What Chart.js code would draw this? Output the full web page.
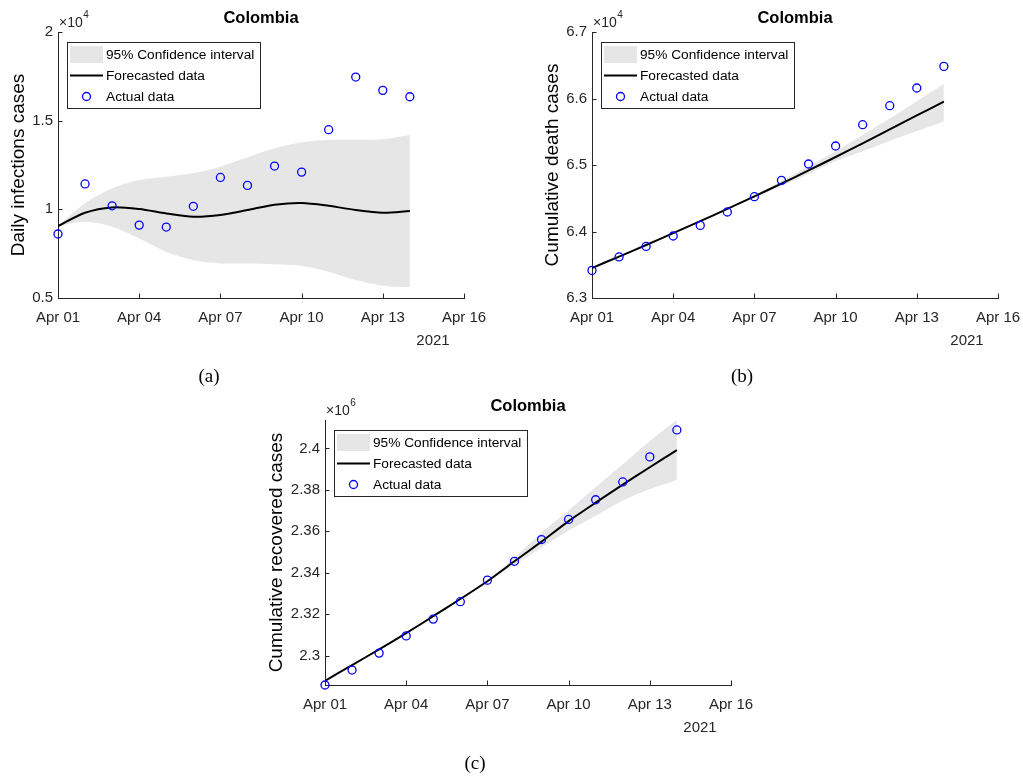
<!DOCTYPE html>
<html>
<head>
<meta charset="utf-8">
<title>Colombia forecasts</title>
<script src="https://cdn.jsdelivr.net/npm/chart.js@4.4.0/dist/chart.umd.min.js"></script>
<style>
  body { margin: 0; background: #fff; }
  #page { position: relative; width: 1023px; height: 778px; overflow: hidden; background: #fff; }
  .panel { position: absolute; }
  .caption {
    position: absolute;
    font-family: 'Liberation Serif', 'DejaVu Serif', serif;
    font-size: 19px;
    color: #000;
    transform: translate(-50%, -50%);
  }
</style>
</head>
<body>
<div id="page">
  <div class="panel" style="left:0;top:0"><canvas id="chartA" width="490" height="390"></canvas></div>
  <div class="panel" style="left:530px;top:0"><canvas id="chartB" width="493" height="390"></canvas></div>
  <div class="panel" style="left:260px;top:390px"><canvas id="chartC" width="500" height="388"></canvas></div>
  <div class="caption" style="left:209px;top:376px">(a)</div>
  <div class="caption" style="left:742px;top:376px">(b)</div>
  <div class="caption" style="left:475px;top:763px">(c)</div>
</div>
<script>
// days since Apr 01 2021
const dayIndex = [0, 1, 2, 3, 4, 5, 6, 7, 8, 9, 10, 11, 12, 13];
const dateTicks = [0, 3, 6, 9, 12, 15];
const dateLabels = ['Apr 01', 'Apr 04', 'Apr 07', 'Apr 10', 'Apr 13', 'Apr 16'];
const yearLabel = '2021';
const countryName = 'Colombia';
const legendLabels = ['95% Confidence interval', 'Forecasted data', 'Actual data'];

// (a) daily infections
const infectionActual = [8610, 11430, 10200, 9110, 9000, 10170, 11800, 11350, 12440, 12100, 14490, 17460, 16710, 16350];
const infectionForecast = [9060, 9810, 10110, 10020, 9770, 9580, 9680, 9960, 10260, 10360, 10200, 9960, 9810, 9900];
const infectionUpper = [9060, 10340, 11180, 11650, 11840, 12030, 12400, 12930, 13440, 13780, 13910, 13920, 13950, 14190];
const infectionLower = [9060, 9300, 9020, 8360, 7610, 7140, 6950, 6950, 6900, 6820, 6480, 6010, 5690, 5600];
const infectionTicks = [5000, 10000, 15000, 20000];

// (b) cumulative deaths
const deathActual = [63415, 63617, 63776, 63932, 64092, 64293, 64523, 64769, 65015, 65286, 65606, 65892, 66158, 66483];
const deathForecast = [63451, 63623, 63797, 63975, 64155, 64340, 64528, 64720, 64918, 65120, 65325, 65535, 65745, 65952];
const deathUpper = [63451, 63623, 63797, 63975, 64156, 64342, 64545, 64760, 64980, 65205, 65450, 65700, 65960, 66218];
const deathLower = [63451, 63623, 63797, 63975, 64154, 64338, 64510, 64685, 64865, 65055, 65205, 65360, 65510, 65656];
const deathTicks = [63000, 64000, 65000, 66000, 67000];

// (c) cumulative recovered
const recoveredActual = [2285800, 2293000, 2301200, 2309500, 2317600, 2326000, 2336400, 2345500, 2356000, 2365700, 2375200, 2383800, 2395900, 2408900];
const recoveredForecast = [2287800, 2295400, 2303000, 2310800, 2319000, 2327300, 2335900, 2345500, 2355000, 2364900, 2373800, 2382500, 2390900, 2399200];
const recoveredUpper = [2287800, 2295400, 2303000, 2310800, 2319000, 2327300, 2336200, 2347200, 2359300, 2370000, 2381200, 2392300, 2403600, 2413700];
const recoveredLower = [2287800, 2295400, 2303000, 2310800, 2319000, 2327300, 2335600, 2344000, 2352100, 2360400, 2367400, 2374800, 2380400, 2384800];
const recoveredTicks = [2300000, 2320000, 2340000, 2360000, 2380000, 2400000];

const FONT = "'Liberation Sans', Arial, Helvetica, sans-serif";
const AXIS = '#262626';
const BAND = '#e6e6e6';
const MARKER = '#0000ff';

function points(values) {
  return dayIndex.map((d, i) => ({ x: d, y: values[i] }));
}

// MATLAB-like extras: inward ticks, title, exponent, legend box, year label
const decorPlugin = {
  id: 'decor',
  afterDraw(chart, args, opts) {
    const ctx = chart.ctx;
    const area = chart.chartArea;
    const xs = chart.scales.x, ys = chart.scales.y;
    ctx.save();

    ctx.strokeStyle = AXIS;
    ctx.lineWidth = 1;
    ctx.beginPath();
    xs.ticks.forEach(t => {
      const px = Math.round(xs.getPixelForValue(t.value)) + 0.5;
      ctx.moveTo(px, area.bottom);
      ctx.lineTo(px, area.bottom - 4.5);
    });
    ys.ticks.forEach(t => {
      const py = Math.round(ys.getPixelForValue(t.value)) + 0.5;
      ctx.moveTo(area.left, py);
      ctx.lineTo(area.left + 4.5, py);
    });
    ctx.stroke();

    // title
    ctx.fillStyle = '#000';
    ctx.font = 'bold 16.5px ' + FONT;
    ctx.textAlign = 'center';
    ctx.textBaseline = 'middle';
    ctx.fillText(countryName, (area.left + area.right) / 2, area.top - 14);

    // exponent
    ctx.fillStyle = AXIS;
    ctx.textAlign = 'left';
    ctx.textBaseline = 'alphabetic';
    ctx.font = '14px ' + FONT;
    const base = '\u00d710';
    ctx.fillText(base, area.left + 1, area.top - 5);
    const w = ctx.measureText(base).width;
    ctx.font = '10px ' + FONT;
    ctx.fillText(opts.exponent, area.left + 1 + w + 0.5, area.top - 14);

    // year under the date axis
    ctx.font = '15px ' + FONT;
    ctx.textAlign = 'center';
    ctx.textBaseline = 'middle';
    ctx.fillText(yearLabel, area.right - 31, area.bottom + 43);

    // legend
    const lx = area.left + 9, ly = area.top + 10, lw = 193, lh = 66;
    ctx.fillStyle = '#fff';
    ctx.fillRect(lx, ly, lw, lh);
    ctx.strokeStyle = AXIS;
    ctx.lineWidth = 1;
    ctx.strokeRect(Math.round(lx) + 0.5, Math.round(ly) + 0.5, lw, lh);
    ctx.fillStyle = BAND;
    ctx.fillRect(lx + 3, ly + 4, 33, 17);
    ctx.strokeStyle = '#000';
    ctx.lineWidth = 2;
    ctx.beginPath();
    ctx.moveTo(lx + 3, ly + 33.5);
    ctx.lineTo(lx + 36, ly + 33.5);
    ctx.stroke();
    ctx.strokeStyle = MARKER;
    ctx.lineWidth = 1.3;
    ctx.beginPath();
    ctx.arc(lx + 19.5, ly + 54.5, 4, 0, Math.PI * 2);
    ctx.stroke();
    ctx.fillStyle = '#000';
    ctx.font = '13.7px ' + FONT;
    ctx.textAlign = 'left';
    ctx.textBaseline = 'middle';
    legendLabels.forEach((txt, i) => {
      ctx.fillText(txt, lx + 39, ly + 13 + i * 21);
    });

    ctx.restore();
  }
};

function makeChart(id, cfg) {
  const canvas = document.getElementById(id);
  const W = canvas.width, H = canvas.height;
  return new Chart(canvas.getContext('2d'), {
    type: 'line',
    data: {
      datasets: [
        {
          label: 'upper', data: points(cfg.upper), fill: '+1', backgroundColor: BAND,
          borderWidth: 0, pointRadius: 0, tension: cfg.tension, order: 3
        },
        {
          label: 'lower', data: points(cfg.lower), fill: false,
          borderWidth: 0, pointRadius: 0, tension: cfg.tension, order: 4
        },
        {
          label: 'forecast', data: points(cfg.forecast), borderColor: '#000', borderWidth: 2,
          pointRadius: 0, fill: false, tension: cfg.tension, order: 1
        },
        {
          label: 'actual', data: points(cfg.actual), showLine: false, pointStyle: 'circle',
          pointRadius: 4, pointBorderWidth: 1.3, pointBorderColor: MARKER,
          pointBackgroundColor: 'rgba(0,0,0,0)', clip: false, order: 0
        }
      ]
    },
    options: {
      responsive: false,
      animation: false,
      events: [],
      layout: { padding: { left: 0, top: cfg.top, right: W - cfg.right, bottom: 0 } },
      plugins: {
        legend: { display: false },
        tooltip: { enabled: false },
        filler: { drawTime: 'beforeDatasetsDraw' },
        decor: { exponent: cfg.exponent }
      },
      scales: {
        x: {
          type: 'linear', min: 0, max: 15,
          grid: { display: false, drawTicks: false },
          border: { display: true, color: AXIS, width: 1 },
          afterBuildTicks: s => { s.ticks = dateTicks.map(v => ({ value: v })); },
          afterFit: s => {
            s.height = H - cfg.bottom;
            s.paddingLeft = 0;
            s.paddingRight = 0;
          },
          ticks: {
            autoSkip: false, maxRotation: 0, padding: 11, color: AXIS,
            font: { family: FONT, size: 15 },
            callback: v => dateLabels[dateTicks.indexOf(v)]
          }
        },
        y: {
          type: 'linear', min: cfg.yMin, max: cfg.yMax,
          grid: { display: false, drawTicks: false },
          border: { display: true, color: AXIS, width: 1 },
          afterBuildTicks: s => { s.ticks = cfg.ticks.map(v => ({ value: v })); },
          afterFit: s => {
            s.width = cfg.left;
            s.paddingTop = 0;
            s.paddingBottom = 0;
          },
          title: {
            display: true, text: cfg.yTitle, color: '#000',
            font: { family: FONT, size: 19 }, padding: { top: cfg.titlePad, bottom: 0 }
          },
          ticks: {
            padding: 5, color: AXIS,
            font: { family: FONT, size: 15 },
            callback: v => String(parseFloat((v / cfg.scale).toFixed(2)))
          }
        }
      }
    },
    plugins: [decorPlugin]
  });
}

makeChart('chartA', {
  actual: infectionActual, forecast: infectionForecast, upper: infectionUpper, lower: infectionLower,
  ticks: infectionTicks, yMin: 5000, yMax: 20000, scale: 1e4, exponent: '4',
  yTitle: 'Daily infections cases', tension: 0.3,
  left: 58, top: 32, right: 464, bottom: 298, titlePad: 7
});

makeChart('chartB', {
  actual: deathActual, forecast: deathForecast, upper: deathUpper, lower: deathLower,
  ticks: deathTicks, yMin: 63000, yMax: 67000, scale: 1e4, exponent: '4',
  yTitle: 'Cumulative death cases', tension: 0.2,
  left: 62, top: 32, right: 468, bottom: 298, titlePad: 11
});

makeChart('chartC', {
  actual: recoveredActual, forecast: recoveredForecast, upper: recoveredUpper, lower: recoveredLower,
  ticks: recoveredTicks, yMin: 2285800, yMax: 2413700, scale: 1e6, exponent: '6',
  yTitle: 'Cumulative recovered cases', tension: 0.2,
  left: 65, top: 30, right: 471, bottom: 295, titlePad: 5
});
</script>
</body>
</html>
